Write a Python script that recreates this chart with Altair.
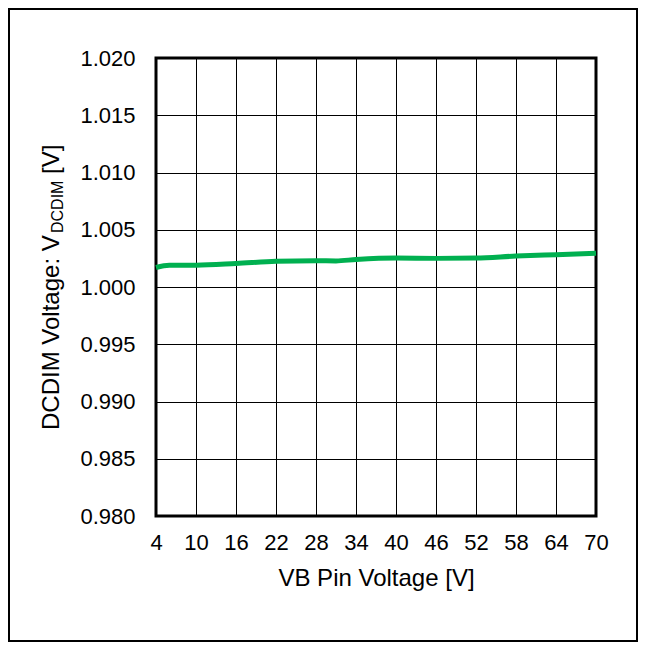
import altair as alt
import pandas as pd

# data
vb = [4, 6, 10, 16, 22, 28, 31, 34, 40, 46, 52, 58, 64, 70]
vdcdim = [1.0017, 1.0019, 1.0019, 1.00205, 1.00225, 1.0023, 1.00228, 1.0024,
          1.00253, 1.0025, 1.00253, 1.0027, 1.00282, 1.00294]
x_ticks = [4, 10, 16, 22, 28, 34, 40, 46, 52, 58, 64, 70]
y_ticks = [0.980, 0.985, 0.990, 0.995, 1.000, 1.005, 1.010, 1.015, 1.020]

W, H = 440, 458
PAD_L, PAD_T, PAD_R, PAD_B = 148, 50, 42, 126
FONT = "Liberation Sans"

df = pd.DataFrame({"vb": vb, "v": vdcdim})

line = alt.Chart(df).mark_line(color="#00B050", strokeWidth=5, interpolate="monotone").encode(
    x=alt.X("vb:Q", scale=alt.Scale(domain=[4, 70], nice=False, zero=False),
            axis=alt.Axis(values=x_ticks, title="VB Pin Voltage [V]", labelPadding=16,
                          labelFlush=False, labelOverlap=False,
                          titlePadding=13, titleFontSize=24, titleFont=FONT,
                          titleFontWeight="normal", titleColor="black")),
    y=alt.Y("v:Q", scale=alt.Scale(domain=[0.98, 1.02], nice=False, zero=False),
            axis=alt.Axis(values=y_ticks, format=".3f", title=None, labelPadding=21,
                          labelFlush=False, labelOverlap=False)),
)

def txt(s, x, y, size):
    return alt.Chart(pd.DataFrame({"t": [s]})).mark_text(
        angle=270, align="left", baseline="alphabetic", font=FONT, fontSize=size, color="black"
    ).encode(text="t:N", x=alt.value(x), y=alt.value(y))

# y-axis title with subscript
ytitle = (txt("DCDIM Voltage: V", -97, 372, 24)
          + txt("DCDIM", -93, 175, 16)
          + txt("[V]", -97, 116, 24))

border = alt.Chart(pd.DataFrame({"a": [0]})).mark_rect(
    fill=None, stroke="black", strokeWidth=2
).encode(x=alt.value(-147), x2=alt.value(W + PAD_R - 1),
         y=alt.value(-PAD_T + 1), y2=alt.value(H + PAD_B - 1))

chart = alt.layer(border, line, ytitle).properties(
    width=W, height=H,
    autosize=alt.AutoSizeParams(type="none"),
    padding={"left": PAD_L, "top": PAD_T, "right": PAD_R, "bottom": PAD_B},
).configure_view(stroke="black", strokeWidth=3).configure_axis(
    grid=True, gridColor="black", gridWidth=1, gridOpacity=1,
    domain=False, ticks=False, labelFont=FONT, labelFontSize=22, labelColor="black",
)

chart.save("out.html", embed_options={"renderer": "svg", "actions": False})
